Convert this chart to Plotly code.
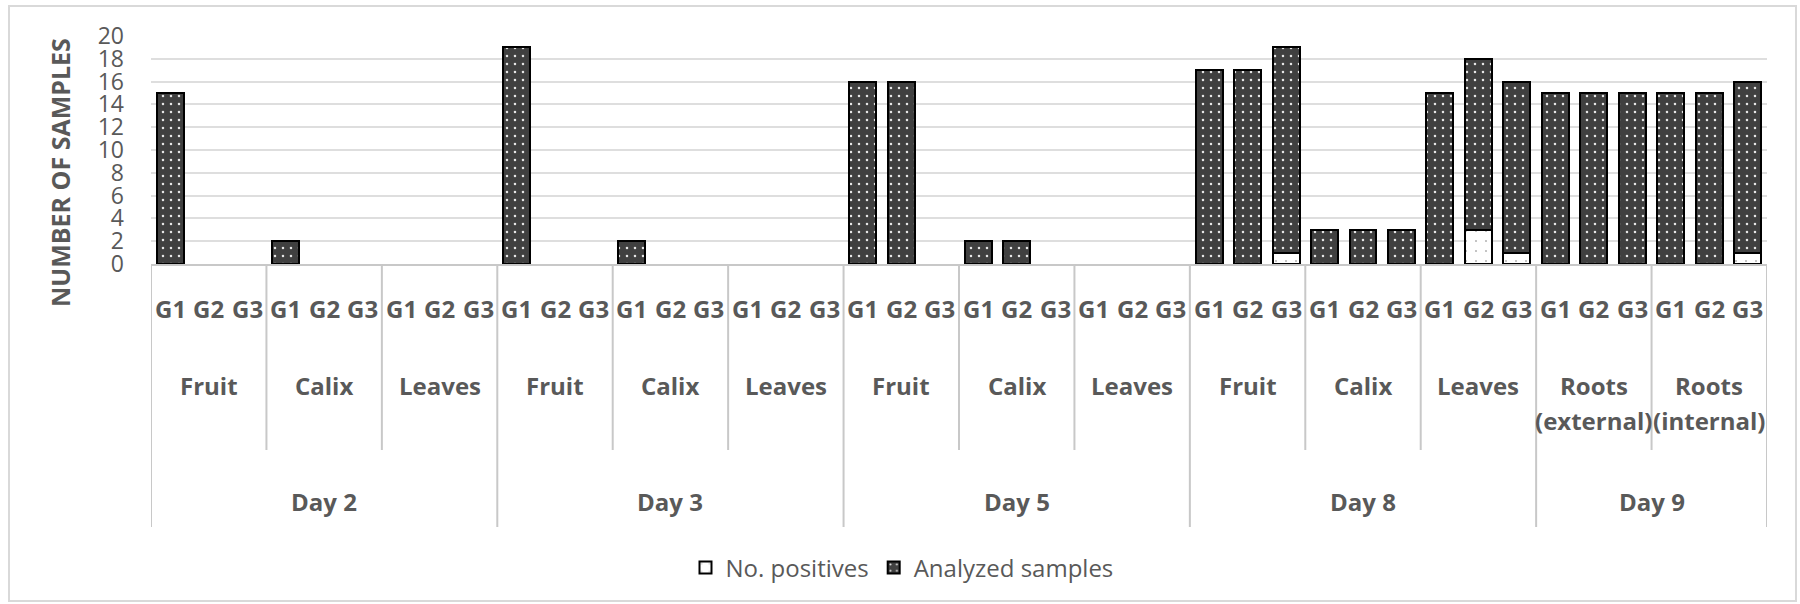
import plotly.graph_objects as go

# ---------------- data ----------------
days = ["Day 2", "Day 3", "Day 5", "Day 8", "Day 9"]
materials = [
    ["Fruit", "Calix", "Leaves"],
    ["Fruit", "Calix", "Leaves"],
    ["Fruit", "Calix", "Leaves"],
    ["Fruit", "Calix", "Leaves"],
    ["Roots<br>(external)", "Roots<br>(internal)"],
]
groups = ["G1", "G2", "G3"]

# No. positives (bottom white segment)
positives = [
    0, 0, 0,  0, 0, 0,  0, 0, 0,      # Day 2
    0, 0, 0,  0, 0, 0,  0, 0, 0,      # Day 3
    0, 0, 0,  0, 0, 0,  0, 0, 0,      # Day 5
    0, 0, 1,  0, 0, 0,  0, 3, 1,      # Day 8
    0, 0, 0,  0, 0, 1,                # Day 9
]
# Analyzed samples (dark dotted segment, stacked on top)
analyzed = [
    15, 0, 0,   2, 0, 0,   0, 0, 0,   # Day 2
    19, 0, 0,   2, 0, 0,   0, 0, 0,   # Day 3
    16, 16, 0,  2, 2, 0,   0, 0, 0,   # Day 5
    17, 17, 18, 3, 3, 3,  15, 15, 15, # Day 8
    15, 15, 15, 15, 15, 15,           # Day 9
]

# ---------------- build category structure ----------------
cat_idx = []
g_labels = []
mat_centers = []
mat_names = []
mat_bounds = []
day_centers = []
day_bounds = [-0.5]
i = 0
for d, mats in zip(days, materials):
    start = i
    for m in mats:
        mstart = i
        for g in groups:
            cat_idx.append(i)
            g_labels.append(g)
            i += 1
        mat_centers.append((mstart + i - 1) / 2)
        mat_names.append(m)
        mat_bounds.append(i - 0.5)
    day_centers.append((start + i - 1) / 2)
    day_bounds.append(i - 0.5)
n = i

def nz(v):
    return [x if x else None for x in v]

TXT = "#595959"
FONT = "Open Sans"
W, H = 1800, 604

fig = go.Figure()
fig.add_trace(go.Bar(
    x=cat_idx, y=nz(positives), name="No. positives",
    marker=dict(color="white", line=dict(color="black", width=2),
                pattern=dict(shape=".", fgcolor="#b0b0b0", bgcolor="white",
                             size=10, solidity=0.03, fillmode="replace")),
))
fig.add_trace(go.Bar(
    x=cat_idx, y=nz(analyzed), name="Analyzed samples",
    marker=dict(color="#404040", line=dict(color="black", width=2),
                pattern=dict(shape=".", fgcolor="#e6e6e6", bgcolor="#404040",
                             size=8, solidity=0.08, fillmode="replace")),
))

# ---------------- pixel helpers (plot area y: 36..264) ----------------
PT, PB = 36, 264
def py(Y):
    return (PB - Y) / (PB - PT)

PL, PR = 151, 1767
def px(X):
    return (X - PL) / (PR - PL)

shapes = []
# material separators
for b in mat_bounds[:-1]:
    if b in day_bounds:
        continue
    shapes.append(dict(type="line", xref="x", yref="paper", x0=b, x1=b,
                       y0=0, y1=py(450), line=dict(color="#c8c8c8", width=2)))
# day separators
for b in day_bounds:
    shapes.append(dict(type="line", xref="x", yref="paper", x0=b, x1=b,
                       y0=0, y1=py(527), line=dict(color="#c8c8c8", width=2)))
# chart border
shapes.append(dict(type="rect", xref="paper", yref="paper",
                   x0=px(9), x1=px(1796), y0=py(601), y1=py(6),
                   line=dict(color="#d9d9d9", width=2)))

annotations = []
for ci, g in zip(cat_idx, g_labels):
    annotations.append(dict(x=ci, y=py(308), xref="x", yref="paper", text=g,
                            showarrow=False, yanchor="middle", xanchor="center",
                            font=dict(family=FONT, size=24, color=TXT, weight="bold")))
for c, m in zip(mat_centers, mat_names):
    for k, line in enumerate(m.split("<br>")):
        annotations.append(dict(x=c, y=py(385 + 35 * k), xref="x", yref="paper",
                                text=line, showarrow=False, yanchor="middle",
                                xanchor="center",
                                font=dict(family=FONT, size=24, color=TXT, weight="bold")))
for c, d in zip(day_centers, days):
    annotations.append(dict(x=c, y=py(501), xref="x", yref="paper", text=d,
                            showarrow=False, yanchor="middle", xanchor="center",
                            font=dict(family=FONT, size=24, color=TXT, weight="bold")))
annotations.append(dict(x=px(60), y=py(173), xref="paper", yref="paper",
                        text="NUMBER OF SAMPLES", textangle=-90, showarrow=False,
                        xanchor="center", yanchor="middle",
                        font=dict(family=FONT, size=25, color=TXT, weight="bold")))

fig.update_layout(
    width=W, height=H, autosize=False,
    margin=dict(l=PL, r=W - PR, t=PT, b=H - PB, pad=0, autoexpand=False),
    barmode="stack", bargap=0.3,
    plot_bgcolor="white", paper_bgcolor="white",
    font=dict(family=FONT, color=TXT),
    shapes=shapes, annotations=annotations,
    legend=dict(orientation="h", xref="container", yref="container",
                x=902 / W, xanchor="center",
                y=(H - 568) / H, yanchor="middle", traceorder="normal",
                font=dict(family=FONT, size=24, color=TXT),
                itemwidth=30, tracegroupgap=0, bgcolor="rgba(0,0,0,0)"),
    xaxis=dict(range=[-0.5, n - 0.5], showticklabels=False, showgrid=False,
               zeroline=False, showline=True, linecolor="#c8c8c8", linewidth=2,
               ticks="", automargin=False),
    yaxis=dict(range=[0, 20], dtick=2, tick0=0, showgrid=True,
               gridcolor="#dedede", gridwidth=1.5, zeroline=False, showline=False,
               ticks="", ticklabelstandoff=26, automargin=False,
               tickfont=dict(family=FONT, size=23, color=TXT)),
)

fig.write_html("out.html",
               config={"displayModeBar": False},
               post_script="document.body.style.margin='0px';document.body.style.overflow='hidden';")
